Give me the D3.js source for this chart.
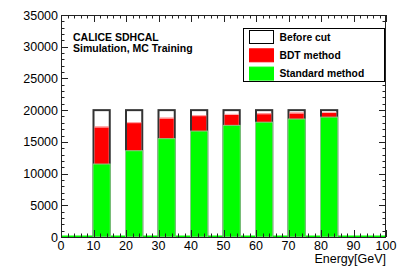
<!DOCTYPE html>
<html><head><meta charset="utf-8">
<script src="https://cdn.jsdelivr.net/npm/d3@7"></script>
<style>
html,body{margin:0;padding:0;background:#fff;}
svg text{font-family:"Liberation Sans",Arial,Helvetica,sans-serif;}
</style></head>
<body>
<svg id="c" width="407" height="276"></svg>
<script>
const energies = [10, 20, 30, 40, 50, 60, 70, 80];
const beforeCut = [20000, 20000, 20000, 20000, 20000, 20000, 20000, 20000];
const bdtMethod = [17400, 18100, 18800, 19200, 19400, 19500, 19600, 19700];
const standardMethod = [11500, 13600, 15500, 16700, 17600, 18100, 18600, 18900];
const binWidth = 5;
const xTicks = [0, 10, 20, 30, 40, 50, 60, 70, 80, 90, 100];
const yTicks = [0, 5000, 10000, 15000, 20000, 25000, 30000, 35000];
const legendItems = ["Before cut", "BDT method", "Standard method"];

const L = 61, R = 386, T = 15, B = 237;
const svg = d3.select("#c");
const x = d3.scaleLinear().domain([0, 100]).range([L, R]);
const y = d3.scaleLinear().domain([0, 35000]).range([B, T]);

// baseline green line (empty bins)
svg.append("line").attr("x1", L).attr("x2", R).attr("y1", B - 0.5).attr("y2", B - 0.5)
  .attr("stroke", "#00ff00").attr("stroke-width", 2);

const g = svg.append("g");
// before cut
g.selectAll(".bc").data(energies).enter().append("rect")
  .attr("x", (d) => x(d)).attr("width", (d) => x(d + binWidth) - x(d))
  .attr("y", (d, i) => y(beforeCut[i])).attr("height", (d, i) => B - y(beforeCut[i]))
  .attr("fill", "#fff").attr("stroke", "#333").attr("stroke-width", 2);
// BDT (drawn inside the outline)
g.selectAll(".bdt").data(energies).enter().append("rect")
  .attr("x", (d) => x(d) + 1).attr("width", (d) => x(d + binWidth) - x(d) - 2)
  .attr("y", (d, i) => y(bdtMethod[i])).attr("height", (d, i) => B - y(bdtMethod[i]))
  .attr("fill", "#ff0000").attr("stroke", "none");
g.selectAll(".bdtTop").data(energies).enter().append("line")
  .attr("x1", (d) => x(d) + 1).attr("x2", (d) => x(d + binWidth) - 1)
  .attr("y1", (d, i) => y(bdtMethod[i]) + 0.5).attr("y2", (d, i) => y(bdtMethod[i]) + 0.5)
  .attr("stroke", "#ffbbbb").attr("stroke-width", 1);
// Standard
g.selectAll(".std").data(energies).enter().append("rect")
  .attr("x", (d) => x(d) - 0.5).attr("width", (d) => x(d + binWidth) - x(d) + 1)
  .attr("y", (d, i) => y(standardMethod[i])).attr("height", (d, i) => B - y(standardMethod[i]))
  .attr("fill", "#00ff00").attr("stroke", "#88cc88").attr("stroke-width", 1);

// frame
svg.append("rect").attr("x", L + 0.5).attr("y", T + 0.5).attr("width", R - L - 1).attr("height", B - T)
  .attr("fill", "none").attr("stroke", "#222").attr("stroke-width", 1);

// ticks
const ax = svg.append("g").attr("stroke", "#222").attr("stroke-width", 1);
const xMinor = d3.range(0, 101, 2);
xMinor.forEach((v) => {
  const len = (v % 10 === 0) ? 7 : 3.5;
  const px = Math.round(x(v)) + 0.5;
  ax.append("line").attr("x1", px).attr("x2", px).attr("y1", B).attr("y2", B - len);
  ax.append("line").attr("x1", px).attr("x2", px).attr("y1", T).attr("y2", T + len);
});
const yMinor = d3.range(0, 35001, 1000);
yMinor.forEach((v) => {
  const len = (v % 5000 === 0) ? 7 : 3.5;
  const py = Math.round(y(v)) + 0.5;
  ax.append("line").attr("x1", L).attr("x2", L + len).attr("y1", py).attr("y2", py);
  ax.append("line").attr("x1", R).attr("x2", R - len).attr("y1", py).attr("y2", py);
});

// tick labels
svg.selectAll(".xl").data(xTicks).enter().append("text")
  .attr("x", (d) => x(d)).attr("y", 250).attr("text-anchor", "middle")
  .attr("font-size", 12.5).attr("fill", "#000").text((d) => d);
svg.selectAll(".yl").data(yTicks).enter().append("text")
  .attr("x", 58).attr("y", (d) => y(d) + 4.5).attr("text-anchor", "end")
  .attr("font-size", 12.5).attr("fill", "#000").text((d) => d);
svg.append("text").attr("x", R).attr("y", 263).attr("text-anchor", "end")
  .attr("font-size", 12.5).text("Energy[GeV]");

// annotations
svg.append("text").attr("x", 73).attr("y", 40.5).attr("font-size", 10.5).attr("font-weight", "bold").text("CALICE SDHCAL");
svg.append("text").attr("x", 73).attr("y", 51.5).attr("font-size", 10.5).attr("font-weight", "bold").text("Simulation, MC Training");

// legend
const lg = svg.append("g");
lg.append("rect").attr("x", 243.5).attr("y", 28.5).attr("width", 141).attr("height", 53)
  .attr("fill", "#fff").attr("stroke", "#000").attr("stroke-width", 1);
const sw = [{f: "#fff", s: "#000"}, {f: "#ff0000", s: "#ff0000"}, {f: "#00ff00", s: "#00ff00"}];
legendItems.forEach((t, i) => {
  const yy = 30.5 + i * 18.3;
  lg.append("rect").attr("x", 249.5).attr("y", yy).attr("width", 24).attr("height", 13)
    .attr("fill", sw[i].f).attr("stroke", sw[i].s).attr("stroke-width", 1);
  lg.append("text").attr("x", 279.5).attr("y", yy + 10).attr("font-size", 10.3)
    .attr("font-weight", "bold").text(t);
});
</script>
</body></html>
